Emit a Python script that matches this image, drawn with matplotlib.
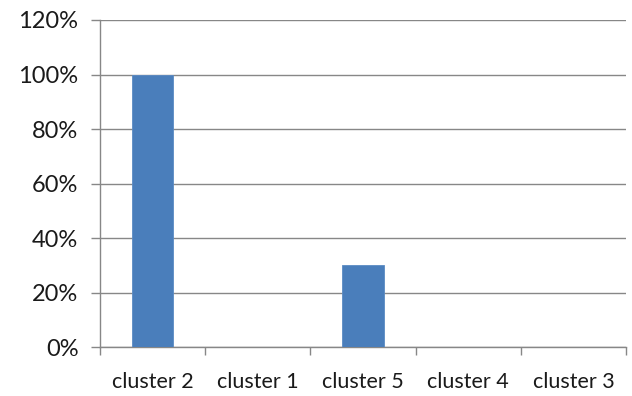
import matplotlib
matplotlib.use("Agg")
import matplotlib.pyplot as plt
from matplotlib.ticker import FuncFormatter, MultipleLocator, FixedLocator
import numpy as np

categories = ["cluster 2", "cluster 1", "cluster 5", "cluster 4", "cluster 3"]
values = [1.00, 0.0, 0.30, 0.0, 0.0]

plt.rcParams['font.family'] = ['Lato', 'DejaVu Sans']

fig = plt.figure(figsize=(6.32, 3.96), dpi=100)
ax = fig.add_axes([0.1582, 0.1237, 0.8323, 0.8258])

x = np.arange(len(categories))
ax.bar(x, values, width=0.39, color="#4A7EBB", edgecolor="#5b8bc4", linewidth=0.6, zorder=3)

ax.set_xlim(-0.5, len(categories) - 0.5)
ax.set_ylim(0, 1.2)
ax.yaxis.set_major_locator(MultipleLocator(0.2))
ax.yaxis.set_major_formatter(FuncFormatter(lambda v, p: f"{v*100:.0f}%"))
ax.grid(axis="y", color="#878787", linewidth=1.0, zorder=0)

ax.set_xticks(x)
ax.set_xticklabels(categories)
ax.xaxis.set_minor_locator(FixedLocator(np.arange(-0.5, len(categories), 1.0)))
ax.tick_params(axis="x", which="major", length=0, pad=18, labelsize=15.5, colors="#1a1a1a")
ax.tick_params(axis="x", which="minor", length=6, width=1, color="#878787")
ax.tick_params(axis="y", length=6.5, width=1, color="#878787", labelsize=17, pad=9, labelcolor="#1a1a1a")

for side in ["top", "right"]:
    ax.spines[side].set_visible(False)
for side in ["left", "bottom"]:
    ax.spines[side].set_color("#878787")
    ax.spines[side].set_linewidth(1.0)

fig.savefig("out.png", dpi=100, facecolor="white")
